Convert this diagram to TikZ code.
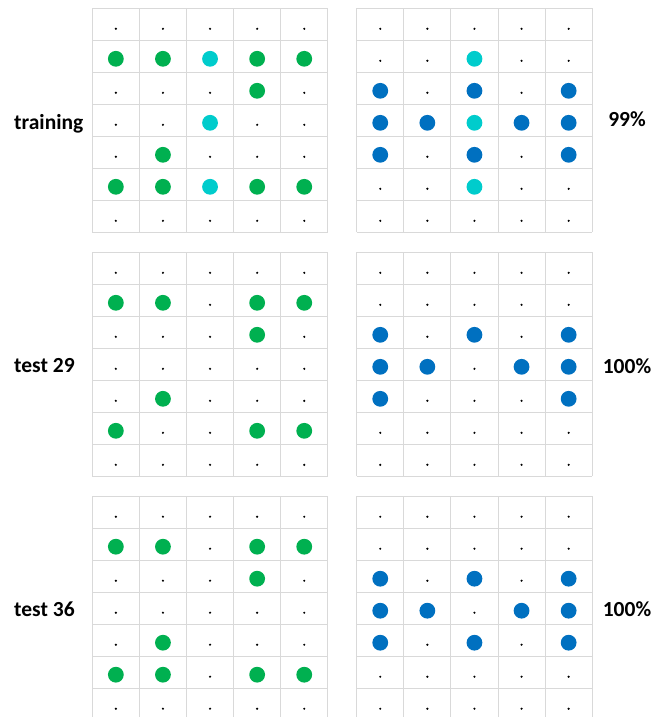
\documentclass[tikz,border=0pt]{standalone}
\usepackage{fontspec}
\setmainfont{Carlito}
\usepackage{tikz}
\usetikzlibrary{positioning, calc}
\definecolor{arcG}{HTML}{00B050}
\definecolor{arcC}{HTML}{00CCCC}
\definecolor{arcB}{HTML}{0070C0}
\definecolor{gridc}{HTML}{D9D9D9}

% one 5x7 board: #1 left, #2 top (px), #3 rows (o = empty, G/C/B = coloured)
\newcommand{\arcgrid}[3]{%
  \begin{scope}[shift={(#1pt,-#2pt)}, x=47.1pt, y=-32pt]
    \foreach \i in {0,...,5} \draw[gridline] (\i,0) -- (\i,7);
    \foreach \j in {0,...,7} \draw[gridline] (0,\j) -- (5,\j);
    \foreach \row [count=\r] in {#3} {
      \foreach \c [count=\k] in \row {
        \if o\c
          \fill[emptydot] ($(\k-0.5,\r-0.5)+(0pt,-4.5pt)$) circle (1.2pt);
        \else
          \fill[arc\c] ($(\k-0.5,\r-0.5)+(0pt,-2.5pt)$) circle (7.9pt);
        \fi
      }
    }
  \end{scope}}

\begin{document}
\begin{tikzpicture}[
    font=\fontsize{21.5}{26}\selectfont\bfseries,
    gridline/.style={draw=gridc, line width=1pt},
    emptydot/.style={fill=black},
    lab/.style={anchor=base west, inner sep=0pt},
    score/.style={anchor=base, inner sep=0pt},
  ]
  \useasboundingbox (0,0) rectangle (652pt,-717pt);
  % ---- training pair
  \arcgrid{92.3}{8.3}{{o,o,o,o,o},{G,G,C,G,G},{o,o,o,G,o},{o,o,C,o,o},{o,G,o,o,o},{G,G,C,G,G},{o,o,o,o,o}}
  \arcgrid{356.7}{8.3}{{o,o,o,o,o},{o,o,C,o,o},{B,o,B,o,B},{B,B,C,B,B},{B,o,B,o,B},{o,o,C,o,o},{o,o,o,o,o}}
  \node[lab] (train) at (14pt,-129pt) {training};
  \node[score] (acc1) at (627pt,-126pt) {99\%};
  % ---- test 29
  \arcgrid{92.3}{252.3}{{o,o,o,o,o},{G,G,o,G,G},{o,o,o,G,o},{o,o,o,o,o},{o,G,o,o,o},{G,o,o,G,G},{o,o,o,o,o}}
  \arcgrid{356.7}{252.3}{{o,o,o,o,o},{o,o,o,o,o},{B,o,B,o,B},{B,B,o,B,B},{B,o,o,o,B},{o,o,o,o,o},{o,o,o,o,o}}
  \node[lab] (t29) at (14pt,-372.6pt) {test 29};
  \node[score] (acc2) at (627pt,-373pt) {100\%};
  % ---- test 36
  \arcgrid{92.3}{496.2}{{o,o,o,o,o},{G,G,o,G,G},{o,o,o,G,o},{o,o,o,o,o},{o,G,o,o,o},{G,G,o,G,G},{o,o,o,o,o}}
  \arcgrid{356.7}{496.2}{{o,o,o,o,o},{o,o,o,o,o},{B,o,B,o,B},{B,B,o,B,B},{B,o,B,o,B},{o,o,o,o,o},{o,o,o,o,o}}
  \node[lab] (t36) at (14pt,-616pt) {test 36};
  \node[score] (acc3) at (627pt,-616.5pt) {100\%};
\end{tikzpicture}
\end{document}
